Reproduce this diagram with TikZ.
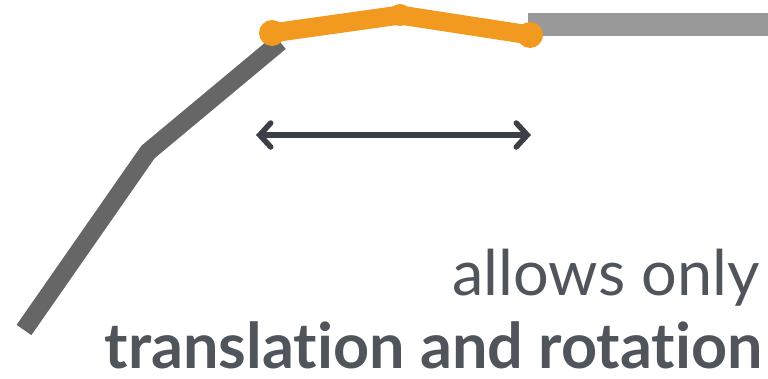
\documentclass[tikz,border=0pt]{standalone}
\usepackage{fontspec}
\setmainfont{Lato}[Ligatures=NoCommon]
\usetikzlibrary{arrows.meta}
\definecolor{dgray}{HTML}{666666}
\definecolor{lgray}{HTML}{999999}
\definecolor{orng}{HTML}{F29A1F}
\definecolor{txt}{HTML}{50555C}
\definecolor{arr}{HTML}{3C3F46}
\tikzset{
  seg/.style={line width=18pt, dgray, line cap=butt, line join=miter},
  moving/.style={line width=19pt, orng, line cap=round, line join=round},
  jointdot/.style={fill=orng, draw=none},
  measure/.style={line width=5.5pt, arr, line cap=round,
     {Straight Barb[length=11pt,width=24pt,line width=5.5pt,line cap=round]}-{Straight Barb[length=11pt,width=24pt,line width=5.5pt,line cap=round]}},
  lbl/.style={text=txt, inner sep=0pt, anchor=base east}
}
\begin{document}
\begin{tikzpicture}[x=1pt,y=-1pt]
\useasboundingbox (0,0) rectangle (768,378);
% fixed right bar
\fill[lgray] (528,13) rectangle (768,36);
% gray chain
\coordinate (g0) at (24,330);
\coordinate (g1) at (148,152);
\coordinate (g2) at (280,42);
\draw[seg] (g0) -- (g1) -- (g2);
% orange chain
\coordinate (o0) at (272,33);
\coordinate (o1) at (400,15);
\coordinate (o2) at (530,35);
\draw[moving] (o0) -- (o1) -- (o2);
\fill[jointdot] (o0) circle (13);
\fill[jointdot] (o1) circle (11);
\fill[jointdot] (o2) circle (13);
% arrow
\coordinate (a0) at (256,135);
\coordinate (a1) at (531,135);
\draw[measure] (a0) -- (a1);
% text
\node[lbl, font=\fontsize{63}{63}\selectfont] (t1) at (760,295) {allows only};
\node[lbl, font=\fontsize{63}{63}\selectfont\bfseries] (t2) at (763,368) {translation and rotation};
\end{tikzpicture}
\end{document}
